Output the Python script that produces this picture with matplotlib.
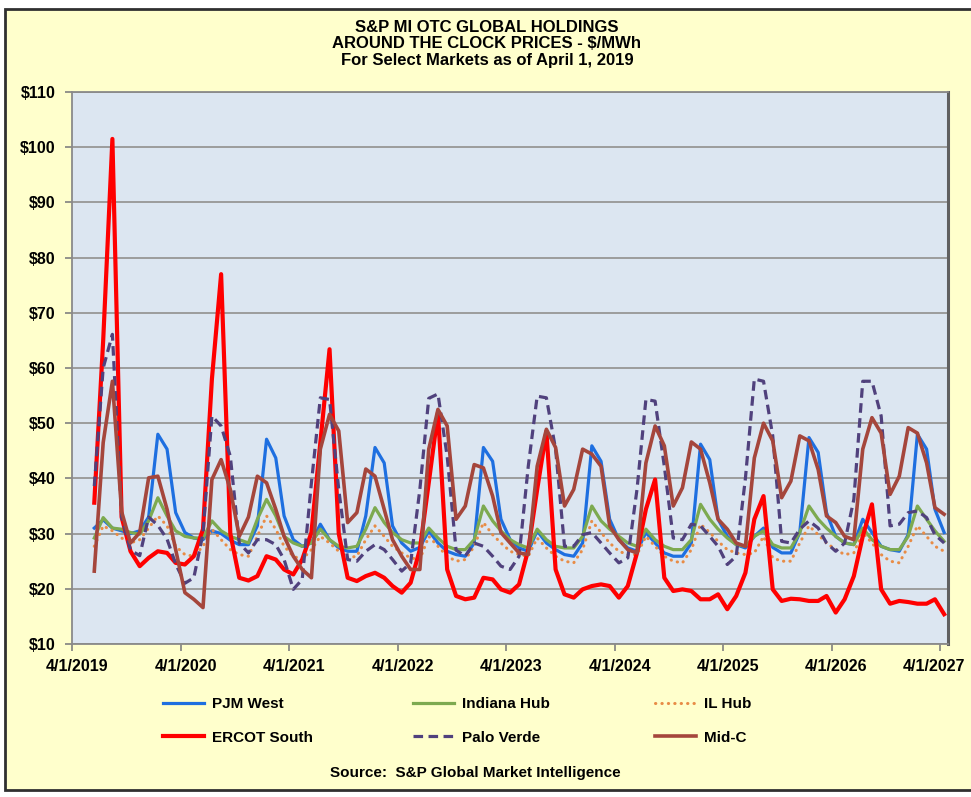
import matplotlib
matplotlib.use('Agg')
import matplotlib.pyplot as plt
import matplotlib.transforms as mtransforms
from matplotlib.patches import Rectangle
import pandas as pd

# ---------------- data (monthly, June 2019 .. April 2027) ----------------
start_month = '2019-06-01'

pjm_west = [31, 32.5, 31, 30.5, 30, 30.5, 33, 48, 45.3, 33.8, 30.2, 29.2, 28.9, 30.5, 30, 28.8, 28, 28,
            31.4, 47.1, 43.7, 33.2, 28.9, 27.7, 28.3, 31.7, 28.9, 27.4, 26.8, 26.8, 33.2, 45.6, 42.8, 31.4, 28.3, 26.8,
            27.5, 30.5, 28.3, 26.8, 26.2, 25.9, 28.3, 45.6, 43.1, 32.6, 28.9, 27.4, 26.8, 30.5, 28.3, 27.1, 26.2, 25.9, 28.3, 45.9,
            43.1, 32.6, 28.9, 27.4, 26.8, 30.2, 28.3, 26.5, 25.9, 25.9, 28.3, 46.2, 43.4, 32.6, 29.5, 28, 27.4, 29.5, 31,
            27.5, 26.5, 26.5, 30.2, 47.4, 44.7, 33.8, 29.5, 28.3, 28, 32.6, 30.2, 27.7, 27.1, 26.8, 29.8, 48, 45.3, 34.4, 30.2]

indiana_hub = [29.2, 32.9, 31, 30.8, 30.2, 29.9, 32.3, 36.5, 33.2, 30.5, 29.5, 29.2, 29.2, 32.3, 30.5, 29.5, 28.9, 28.3,
               32.6, 36.2, 33.2, 29.5, 28.3, 27.7, 28.3, 30.8, 28.9, 27.7, 27.4, 27.7, 30.8, 34.7, 32, 30.2, 28.9, 28.3,
               28.3, 31, 29.2, 27.7, 27.1, 27.1, 28.9, 35, 32.3, 30.5, 28.9, 28, 27.4, 30.8, 28.9, 27.7, 27.4, 27.4, 29.5, 35,
               32.3, 30.8, 29.5, 28.3, 27.7, 30.8, 28.9, 27.7, 27.1, 27.1, 28.9, 35.3, 32.6, 30.8, 29.2, 28, 27.7, 29.5, 30.5,
               28, 27.4, 27.4, 30.2, 35, 32.6, 31, 29.5, 28.3, 28, 31, 28.9, 27.7, 27.1, 27.1, 29.5, 35, 32.6, 30.5, 28.6]

il_hub = [27.7, 31.4, 30.5, 29.2, 28.3, 28.9, 31, 33.2, 31.4, 27.7, 26.2, 25.9, 27.7, 30.8, 28.9, 27.1, 26.2, 25.9,
          29.5, 33.2, 30.8, 27.7, 25.9, 25.3, 27.1, 29.5, 28.3, 26.8, 25.6, 25.9, 28.9, 31.4, 29.5, 27.7, 26.5, 25.6,
          25.3, 29.5, 27.7, 25.9, 25, 25.3, 27.7, 32, 29.8, 28.3, 26.8, 26.2, 25.9, 29.2, 27.4, 25.9, 25, 24.7, 27.1, 32.3,
          30.2, 28.3, 26.8, 26.2, 26.2, 29.5, 27.7, 25.9, 25, 24.7, 27.1, 31.7, 30.2, 28.6, 27.1, 26.5, 26.2, 26.5, 29.5,
          25.6, 25, 25, 28.3, 31.4, 29.8, 28.3, 27.1, 26.2, 26.5, 30.2, 28.3, 26.2, 25, 24.7, 27.7, 31.4, 29.5, 27.7, 26.8]

ercot_south = [35.6, 65, 101.5, 33, 26.8, 24.1, 25.6, 26.8, 26.5, 24.7, 24.4, 25.9, 30.8, 58, 77, 30, 22, 21.5,
               22.3, 25.9, 25.3, 23.5, 22.6, 25.3, 30.2, 46.5, 63.4, 30, 22, 21.4, 22.3, 22.9, 22, 20.5, 19.3, 21.1,
               27.1, 39.2, 51.9, 23.5, 18.7, 18.1, 18.4, 22, 21.7, 19.9, 19.3, 20.8, 27.1, 38, 48.5, 23.5, 19, 18.4, 19.9, 20.5,
               20.8, 20.5, 18.4, 20.5, 26.5, 34.4, 39.8, 22, 19.6, 19.9, 19.6, 18.1, 18.1, 19, 16.3, 18.7, 22.9, 32.6, 36.8,
               19.9, 17.8, 18.2, 18.1, 17.8, 17.8, 18.7, 15.7, 18.1, 22.3, 29.5, 35.3, 19.9, 17.3, 17.8, 17.6, 17.3, 17.3, 18.1, 15.4]

palo_verde = [38.6, 60, 66.1, 33, 27, 26, 33, 31.5, 29, 24.5, 21, 22, 30, 51.3, 49.5, 44, 28.3, 26.5,
              28.9, 28.9, 28, 25.3, 19.9, 21.7, 39.2, 54.6, 54.3, 38, 25.3, 25, 26.8, 28, 27.1, 25.3, 23.2, 24.7,
              38, 54.5, 55.3, 44, 27, 25.9, 28.3, 27.7, 25.9, 24.1, 23.5, 25.9, 42.2, 54.9, 54.6, 45.3, 27.7, 27.7, 29.8, 30.2,
              28.3, 26.5, 24.7, 25.6, 38, 54.3, 54, 42.2, 29.2, 28.9, 31.7, 31.4, 29.5, 27.7, 24.4, 25.9, 40, 58, 57.6,
              47.7, 28.6, 28.3, 30.8, 32.3, 31, 28.3, 26.8, 28.3, 36.2, 57.6, 57.6, 51.3, 31.4, 31.7, 33.8, 34.1, 32.9, 29.8, 28.3]

mid_c = [23.2, 46.5, 57.6, 34, 28.3, 30.2, 40.1, 40.4, 34.4, 27.1, 19.3, 18.1, 16.6, 39.8, 43.4, 38, 29.5, 33,
         40.4, 39.2, 34.4, 29.5, 25.9, 23.5, 22, 45.3, 51.6, 48.6, 32, 33.8, 41.7, 40.4, 34.4, 28.9, 25.9, 23.5,
         23.5, 45.3, 52.5, 49.5, 32.6, 35, 42.5, 41.9, 36.8, 30.2, 28.3, 26.5, 26.2, 42.2, 48.9, 45.6, 35, 38, 45.3, 44.4,
         42.2, 31.4, 28.9, 27.1, 26.5, 42.8, 49.5, 45.9, 35, 38.3, 46.6, 45.3, 39.2, 32.6, 30.8, 28.3, 27.7, 43.7, 50,
         46.8, 36.5, 39.5, 47.7, 46.8, 41.6, 33.2, 32, 29.5, 28.9, 45.3, 51, 48.2, 37.1, 40.4, 49.2, 48.2, 42.8, 34.7, 33.5]

series_names = ['PJM West', 'Indiana Hub', 'IL Hub', 'ERCOT South', 'Palo Verde', 'Mid-C']
tick_years = list(range(2019, 2028))
tick_labels = ['4/1/%d' % y for y in tick_years]
y_ticks = list(range(10, 111, 10))

# ---------------- styling ----------------
BOLD = dict(fontfamily=['Liberation Sans', 'DejaVu Sans'], fontweight='bold')
styles = {
    'PJM West':    dict(color='#1E6FE0', lw=2.3, ls='-'),
    'Indiana Hub': dict(color='#7DAA50', lw=2.3, ls='-'),
    'IL Hub':      dict(color='#E88C46', lw=2.2, ls=(0, (0.1, 2.0)), dash_capstyle='round'),
    'ERCOT South': dict(color='#FF0000', lw=3.0, ls='-'),
    'Palo Verde':  dict(color='#50417D', lw=2.3, ls=(0, (3.0, 1.7))),
    'Mid-C':       dict(color='#A5463C', lw=2.6, ls='-'),
}
data = dict(zip(series_names, [pjm_west, indiana_hub, il_hub, ercot_south, palo_verde, mid_c]))

W, H = 971, 797
fig = plt.figure(figsize=(W / 100, H / 100), dpi=100)
fig.patch.set_facecolor('white')
fig.add_artist(Rectangle((5 / W, 1 - 790 / H), (990 - 5) / W, (790 - 9) / H,
                         transform=fig.transFigure, facecolor='#FFFFCC',
                         edgecolor='#303030', lw=2, zorder=-10))

ax = fig.add_axes([72 / W, 1 - 644 / H, (948 - 72) / W, (644 - 92) / H])
ax.set_facecolor('#DCE6F1')

dates = pd.date_range(start_month, periods=len(pjm_west), freq='MS') + pd.Timedelta(days=14)
for name in series_names:
    st = styles[name]
    kw = dict(color=st['color'], lw=st['lw'], ls=st['ls'], label=name, solid_joinstyle='round')
    if 'dash_capstyle' in st:
        kw['dash_capstyle'] = st['dash_capstyle']
    ax.plot(dates, data[name], **kw)

ax.set_ylim(10, 110)
ax.set_yticks(y_ticks)
ax.set_yticklabels(['$%d' % v for v in y_ticks], **BOLD, fontsize=11.5)
ax.set_xlim(pd.Timestamp('2019-04-01'), pd.Timestamp('2027-04-28'))
xt = [pd.Timestamp('%d-04-01' % y) for y in tick_years]
ax.set_xticks(xt)
ax.set_xticklabels(tick_labels, **BOLD, fontsize=11.5)
ax.tick_params(axis='both', direction='out', length=5, color='#808080', width=1.2)
ax.tick_params(axis='y', pad=7)
ax.tick_params(axis='x', pad=6)
labs = ax.get_xticklabels()
for k, lab in enumerate(labs):
    dx = 5 if k < len(labs) - 1 else -6   # keep the last label inside the canvas
    lab.set_transform(lab.get_transform() + mtransforms.ScaledTranslation(dx / 100, 0, fig.dpi_scale_trans))

ax.grid(axis='y', color='#9C9C9C', lw=1.4)
ax.set_axisbelow(True)
for side, sp in ax.spines.items():
    sp.set_color('#8A8A8A')
    sp.set_linewidth(1.3)
ax.spines['right'].set_color('#606060')
ax.spines['right'].set_linewidth(2.2)

# ---------------- titles ----------------
cx = 487 / W
fig.text(cx, 1 - 27 / H, 'S&P MI OTC GLOBAL HOLDINGS', ha='center', va='center', fontsize=12, **BOLD)
fig.text(cx, 1 - 44 / H, 'AROUND THE CLOCK PRICES - $/MWh', ha='center', va='center', fontsize=12, **BOLD)
fig.text(cx, 1 - 60 / H, 'For Select Markets as of April 1, 2019', ha='center', va='center', fontsize=12, **BOLD)

# ---------------- legend (3 columns x 2 rows) ----------------
handles = {n: l for n, l in zip(series_names, ax.get_lines())}
columns = [(['PJM West', 'ERCOT South'], 163), (['Indiana Hub', 'Palo Verde'], 413), (['IL Hub', 'Mid-C'], 655)]
for names, x0 in columns:
    fig.legend([handles[n] for n in names], names, loc='center left',
               bbox_to_anchor=(x0 / W, 1 - 721 / H), frameon=False,
               prop=dict(family=['Liberation Sans', 'DejaVu Sans'], weight='bold', size=11),
               handlelength=2.7, handletextpad=0.5, labelspacing=1.25,
               borderpad=0, borderaxespad=0)

fig.text(475 / W, 1 - 773 / H, 'Source:  S&P Global Market Intelligence', ha='center', va='center',
         fontsize=11, **BOLD)

fig.savefig('out.png', dpi=100, facecolor=fig.get_facecolor())
